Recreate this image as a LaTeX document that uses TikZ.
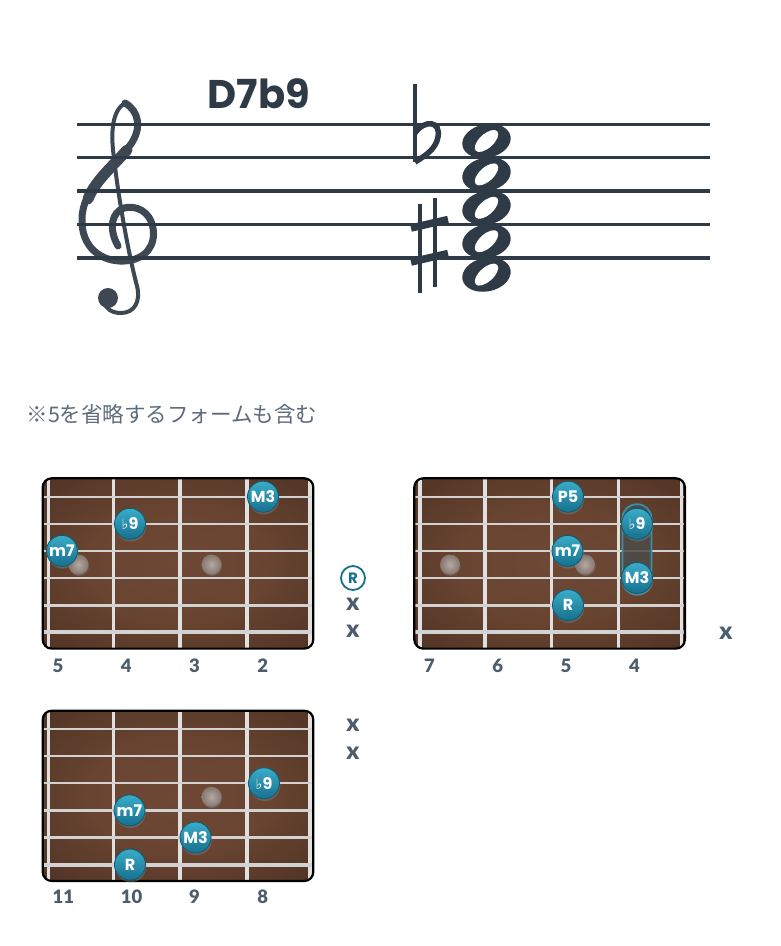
\documentclass[tikz,border=0pt]{standalone}
\usepackage{fontspec}
\setmainfont{Poppins}
\newfontfamily\jpfont{Noto Sans CJK JP}
\newfontfamily\symfont{DejaVu Sans}
\newfontfamily\numfont{Lato Black}
\usetikzlibrary{calc}
\usetikzlibrary{shadows}
\usetikzlibrary{positioning}

\definecolor{ink}{HTML}{2E3A46}
\definecolor{clefcol}{HTML}{3D4853}
\definecolor{slate}{HTML}{4D5D6E}
\definecolor{memo}{HTML}{5E6B7A}
\definecolor{woodC}{HTML}{6E4834}
\definecolor{woodE}{HTML}{2E1B12}
\definecolor{toneTop}{HTML}{3AACC8}
\definecolor{toneBot}{HTML}{16708E}
\definecolor{toneEdge}{HTML}{0F5A72}
\definecolor{wire}{HTML}{D2D2D2}
\definecolor{inlayC}{HTML}{B5A9A1}
\definecolor{inlayE}{HTML}{857770}

\pgfdeclareradialshading{woodgrain}{\pgfpoint{0bp}{0bp}}{color(0bp)=(woodC); color(16bp)=(woodC!92!woodE); color(38bp)=(woodC!50!woodE); color(50bp)=(woodE); color(70bp)=(woodE)}

\newcommand{\flatmark}{{\symfont\fontsize{14.5}{14.5}\selectfont ♭}}
\newcommand{\tonefont}{\fontsize{16}{16}\selectfont\bfseries}

\begin{document}
\begin{tikzpicture}[x=1pt,y=-1pt,
  staffline/.style={draw=ink, line width=3.3},
  clefline/.style={draw=clefcol, line cap=round},
  fretwire/.style={draw={rgb,255:red,224;green,224;blue,224}, line width=3.4},
  wire/.style={draw=wire},
  tone/.style={circle, minimum size=31, inner sep=0pt, top color=toneTop,
    bottom color=toneBot, draw=toneEdge, line width=0.8, text=white,
    font=\tonefont, drop shadow={opacity=0.45, shadow xshift=0.8pt, shadow yshift=-2.2pt}},
  inlay/.style={inner color=inlayC, outer color=inlayE},
  fretnum/.style={anchor=west, text=slate, font=\numfont\fontsize{18.5}{18.5}\selectfont},
  mute/.style={text=slate, font=\numfont\fontsize{24}{24}\selectfont},
  openroot/.style={circle, draw=toneBot, line width=1.8, fill=white, minimum size=24,
    inner sep=0pt, text=toneBot, font=\fontsize{15}{15}\selectfont\bfseries},
  barre/.style={draw=toneTop!85!black, line width=1.8, fill=black!70, fill opacity=0.85,
    rounded corners=14}]

\fill[white] (0,0) rectangle (780,946);
\useasboundingbox (0,0) rectangle (780,946);

% title
\node[anchor=base west, text=ink, font=\fontsize{40}{40}\selectfont\bfseries] (title) at (204,108.5) {D7b9};

% treble clef
\draw[clefline, line width=7] (125,103) .. controls (139,111) and (142,128) .. (131,144)
  .. controls (116,165) and (82,187) .. (82,219) .. controls (81,247) and (101,262) .. (124,261)
  .. controls (146,260) and (156,245) .. (153,228) .. controls (150,211) and (136,205) .. (124,208)
  .. controls (112,212) and (108,228) .. (118,246);
\draw[clefline, line width=11] (127,150) .. controls (112,167) and (95,181) .. (88,199);
\draw[clefline, line width=4] (125,103) .. controls (113,110) and (110,130) .. (114,158)
  .. controls (118,195) and (128,252) .. (137,286) .. controls (141,302) and (134,313) .. (121,313)
  .. controls (112,313) and (106,309) .. (104,302);
\fill[clefcol] (108,298) circle (10);

% staff lines
\foreach \l in {0,...,4}
  \draw[staffline] (77,124.3+33.4*\l) -- (710,124.3+33.4*\l);

% flat
\draw[ink, line width=3.8] (415,84) -- (415,162);
\draw[ink, line width=5.5] (415,133) .. controls (425,119) and (441,121) .. (438,137)
  .. controls (436,149) and (425,156) .. (415,162);
% sharp
\draw[ink, line width=3.6] (420,204) -- (420,293);
\draw[ink, line width=3.6] (435,198) -- (435,287);
\draw[ink, line width=7.5] (411,228) -- (448,219.5);
\draw[ink, line width=7.5] (411,262) -- (448,253.5);

% whole notes
\foreach \ny in {141,174.4,207.8,241.2,274.6}
  \fill[ink, rotate around={12:(486.5,\ny)}] (486.5,\ny) ellipse (24.5 and 16.8);
\foreach \ny in {141,174.4,207.8,241.2,274.6}
  \fill[white, rotate around={42:(486.5,\ny)}] (486.5,\ny) ellipse (14.5 and 7);

% memo
\node[anchor=west, text=memo, font=\jpfont\fontsize{21.5}{21.5}\selectfont] (memo) at (23,414) {※5を省略するフォームも含む};

% fretboards
\foreach \bx/\by in {42.7/478.3, 414.3/478.3, 42.7/710.7}
{
  \shade[shading=woodgrain, rounded corners=9] (\bx,\by) rectangle ++(270.6,170.3);
  \begin{scope}
    \clip[rounded corners=9] (\bx,\by) rectangle ++(270.6,170.3);
    % frets
    \foreach \f in {5.6,70.6,137.3,204.3,267.4}
      \draw[fretwire] (\bx+\f,\by) -- ++(0,170.3);
    % strings
    \foreach \s/\w in {0/1.7,1/1.9,2/2.1,3/2.4,4/3.2,5/3.8}
      \draw[wire, line width=\w] (\bx,\by+18.4+27.1*\s) -- ++(270.6,0);
  \end{scope}
  \draw[line width=2.2, rounded corners=9] (\bx,\by) rectangle ++(270.6,170.3);
}

% inlay dots
\foreach \ix/\iy in {78.5/564.5, 211.5/564.5, 450/564.5, 585/564.5, 211.5/796.8}
  \shade[inlay, drop shadow={opacity=0.4, shadow xshift=0.6pt, shadow yshift=-1.5pt}] (\ix,\iy) circle (10);

% fret numbers
\foreach \n [count=\k from 0] in {5,4,3,2}
  \node[fretnum] (a-f\n) at (49+68.3*\k,666) {\n};
\foreach \n [count=\k from 0] in {7,6,5,4}
  \node[fretnum] (b-f\n) at (420.6+68.3*\k,666) {\n};
\foreach \n [count=\k from 0] in {11,10,9,8}
  \node[fretnum] (c-f\n) at (49+68.3*\k,897) {\n};

% board a
\node[tone] (a-M3) at (263,496.7) {M3};
\node[tone] (a-b9) at (130,523.8) {\flatmark9};
\node[tone] (a-m7) at (62,550.9) {m7};
\node[openroot] (a-R) at (353,578) {R};
\node[mute] (a-x5) at (353,604) {x};
\node[mute] (a-x6) at (353,631) {x};

% board b
\coordinate (b-top) at (637,523.8);
\coordinate (b-bot) at (637,578);
\path[barre] ($(b-top)+(-14.5,-19.5)$) rectangle ($(b-bot)+(14.5,16.5)$);
\node[tone] (b-P5) at (568,496.7) {P5};
\node[tone] (b-m7) at (567.5,550.9) {m7};
\node[tone] (b-R) at (568,605.1) {R};
\node[tone] (b-b9) at (b-top) {\flatmark9};
\node[tone] (b-M3) at (b-bot) {M3};
\node[mute] (b-x6) at (726,633) {x};

% board c
\node[tone] (c-b9) at (264,783.3) {\flatmark9};
\node[tone] (c-m7) at (129.5,810.4) {m7};
\node[tone] (c-M3) at (195.5,837.5) {M3};
\node[tone] (c-R) at (130,864.6) {R};
\node[mute] (c-x1) at (353,725.5) {x};
\node[mute] (c-x2) at (353,753) {x};
\end{tikzpicture}
\end{document}
